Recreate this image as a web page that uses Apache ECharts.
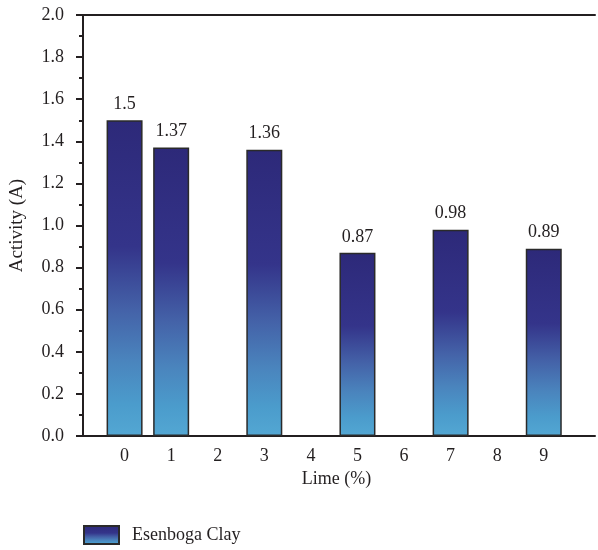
<!DOCTYPE html>
<html>
<head>
<meta charset="utf-8">
<script src="https://cdn.jsdelivr.net/npm/echarts@6/dist/echarts.min.js"></script>
<style>
  html, body { margin: 0; padding: 0; background: #fff; }
  #chart { width: 598px; height: 550px; }
</style>
</head>
<body>
<div id="chart"></div>
<script>
// Lime content (%) of each tested mix and its measured activity
const limeTicks = ['0', '1', '2', '3', '4', '5', '6', '7', '8', '9'];
const limeContent = [0, 1, 3, 5, 7, 9];
const activity = [1.5, 1.37, 1.36, 0.87, 0.98, 0.89];
const seriesName = 'Esenboga Clay';

const ink = '#231f20';
const font = '"Liberation Serif", "DejaVu Serif", serif';
const fs = 18;

const barFill = {
  type: 'linear', x: 0, y: 0, x2: 0, y2: 1,
  colorStops: [
    { offset: 0, color: '#2d2979' },
    { offset: 0.4, color: '#34348a' },
    { offset: 0.6, color: '#4462a8' },
    { offset: 0.76, color: '#4a84bd' },
    { offset: 0.9, color: '#4b9ccc' },
    { offset: 1, color: '#53a7d3' }
  ]
};

const chart = echarts.init(document.getElementById('chart'), null, { renderer: 'canvas' });

chart.setOption({
  animation: false,
  backgroundColor: '#ffffff',
  textStyle: { fontFamily: font, color: ink },
  grid: { left: 77, right: 0, top: 15, bottom: 114, containLabel: false },
  legend: {
    left: 83, top: 525, padding: 0,
    itemWidth: 35, itemHeight: 18, itemGap: 14,
    textStyle: { fontFamily: font, fontSize: fs, color: ink, padding: [0, 0, 0, 8] },
    data: [{ name: seriesName, icon: 'rect' }]
  },
  xAxis: [
    {
      type: 'value', min: -1, max: 10.1, interval: 1,
      name: 'Lime (%)', nameLocation: 'middle', nameGap: 32,
      nameTextStyle: { fontFamily: font, fontSize: fs, color: ink },
      axisLine: { show: true, onZero: false, lineStyle: { color: ink, width: 2 } },
      axisTick: { show: false },
      splitLine: { show: false },
      axisLabel: {
        fontFamily: font, fontSize: fs, color: ink, margin: 11,
        showMinLabel: true, showMaxLabel: true,
        formatter: v => (Number.isInteger(v) && v >= 0 && v < limeTicks.length) ? limeTicks[v] : ''
      }
    },
    {
      type: 'value', position: 'top', min: -1, max: 10.1,
      axisLine: { show: true, onZero: false, lineStyle: { color: ink, width: 2 } },
      axisTick: { show: false }, axisLabel: { show: false }, splitLine: { show: false }
    }
  ],
  yAxis: {
    type: 'value', min: 0, max: 2.0, interval: 0.2, offset: -5,
    name: 'Activity (A)', nameLocation: 'middle', nameGap: 56, nameRotate: 90,
    nameTextStyle: { fontFamily: font, fontSize: 19, color: ink },
    axisLine: { show: true, onZero: false, lineStyle: { color: ink, width: 2 } },
    axisTick: { show: true, inside: false, length: 7, lineStyle: { color: ink, width: 2 } },
    minorTick: { show: true, splitNumber: 2, length: 4, lineStyle: { color: ink, width: 2 } },
    splitLine: { show: false },
    axisLabel: {
      fontFamily: font, fontSize: fs, color: ink, margin: 19,
      formatter: v => v.toFixed(1)
    }
  },
  series: [{
    name: seriesName,
    type: 'bar',
    barWidth: 36,
    data: limeContent.map((x, i) => [x, activity[i]]),
    itemStyle: { color: barFill, borderColor: '#2a2a2a', borderWidth: 1.5 },
    label: {
      show: true, position: 'top', distance: 7,
      fontFamily: font, fontSize: fs, color: ink,
      formatter: p => String(p.value[1])
    }
  }]
});
</script>
</body>
</html>
